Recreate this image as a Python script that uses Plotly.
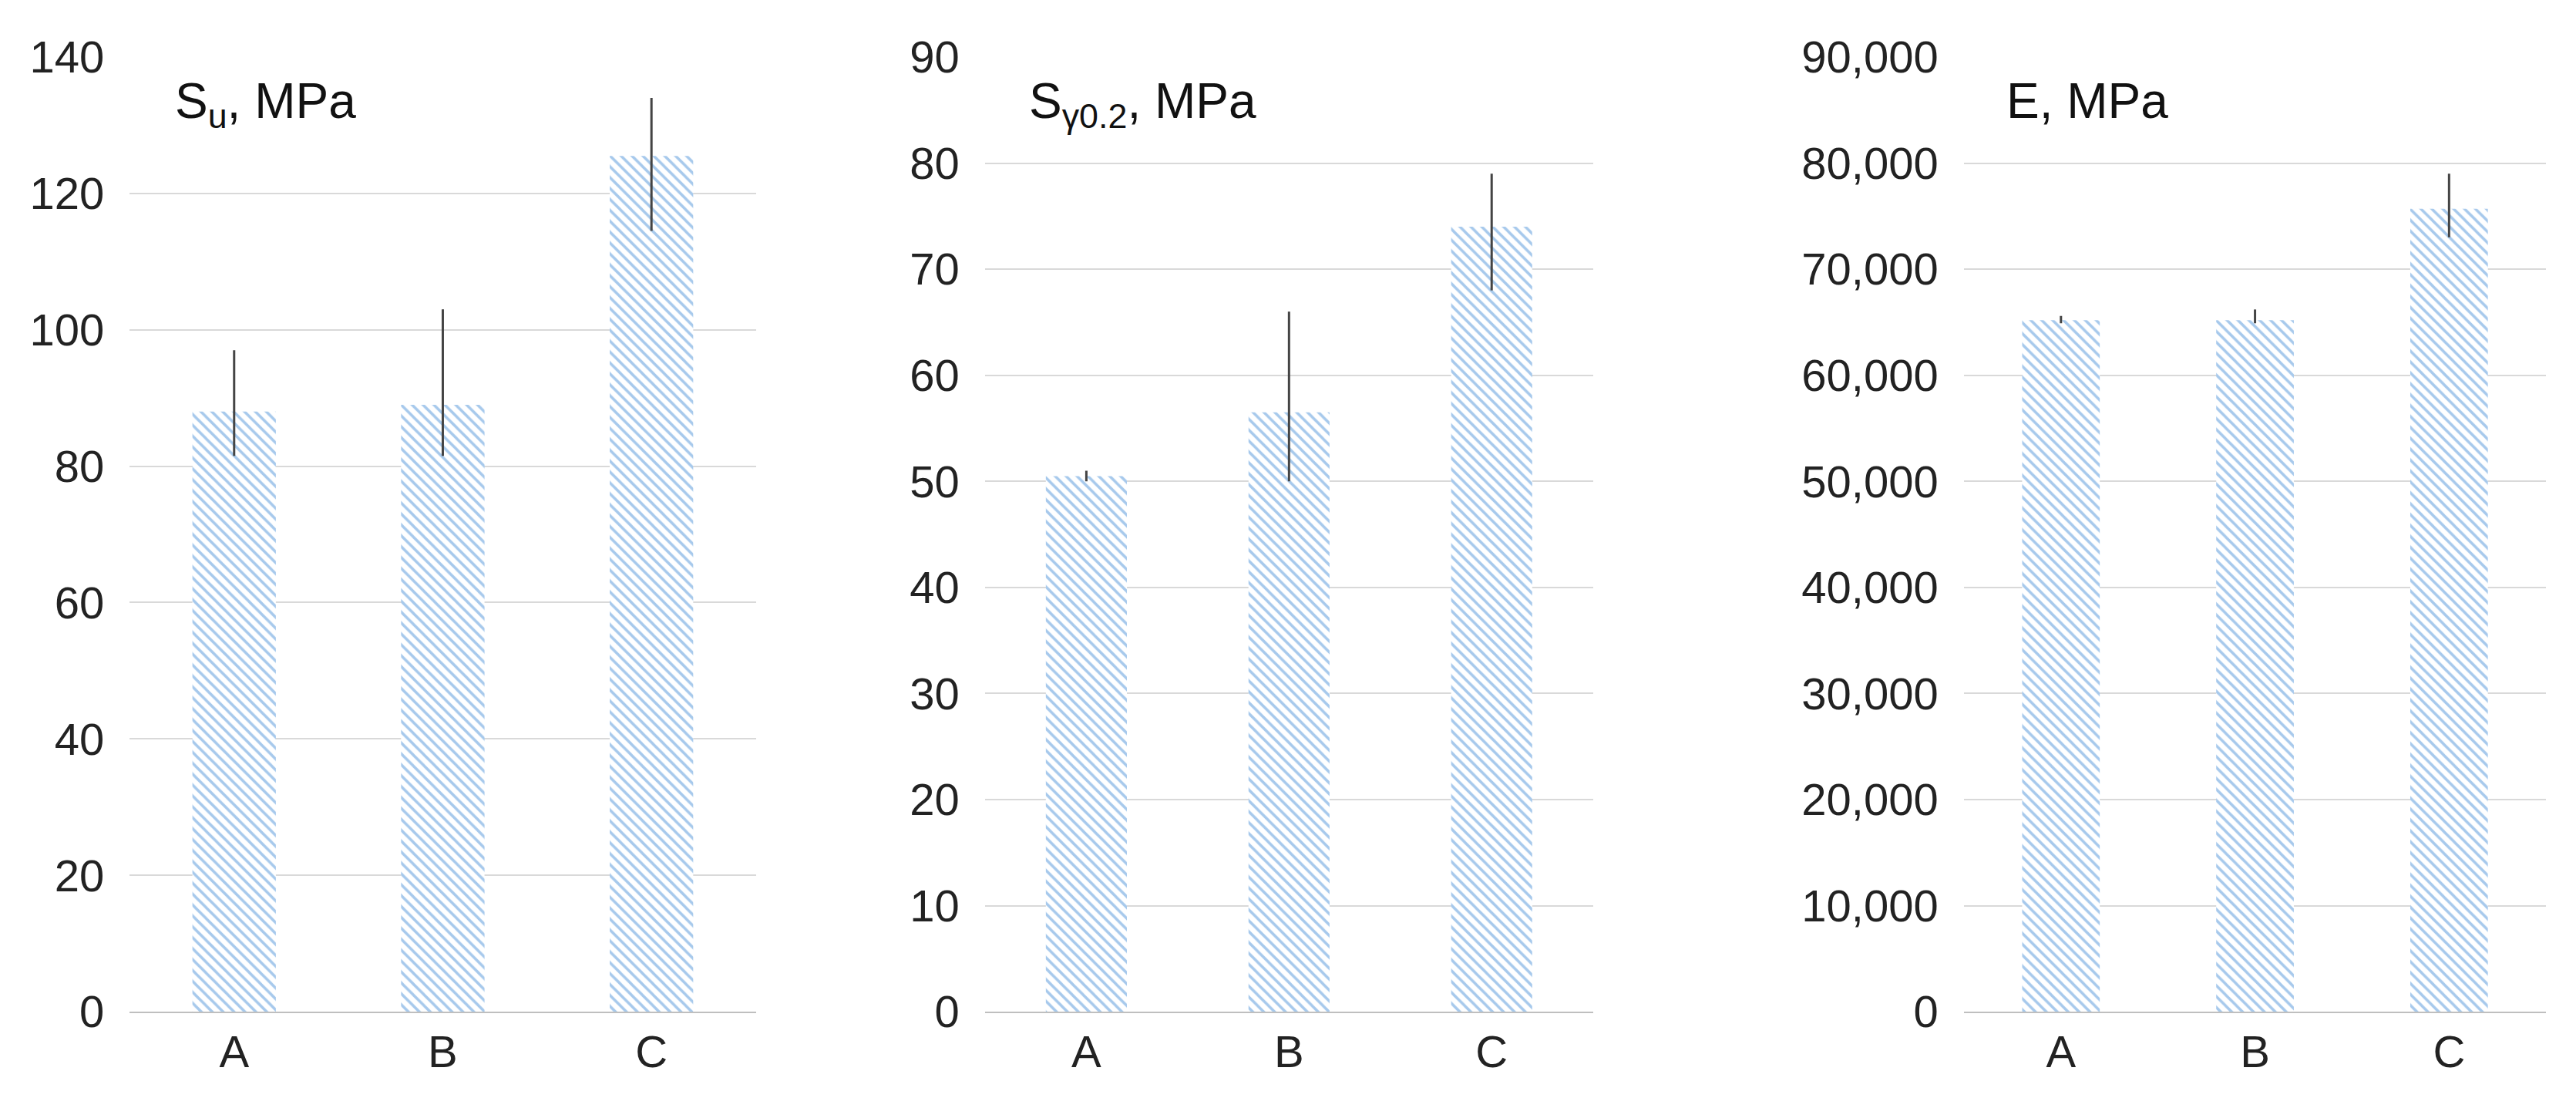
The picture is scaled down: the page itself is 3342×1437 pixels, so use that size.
import plotly.graph_objects as go

cats = ["A", "B", "C"]
su = [88, 89, 125.5]
su_hi = [97, 103, 134]
su_lo = [81.5, 81.5, 114.5]
sy = [50.5, 56.5, 74]
sy_hi = [51, 66, 79]
sy_lo = [50, 50, 68]
em = [65200, 65200, 75700]
em_hi = [65600, 66200, 79000]
em_lo = [64900, 64900, 73000]

panels = [
    (su, su_hi, su_lo, [0, 140], 20, "S<sub>u</sub>, MPa", [0.048, 0.291]),
    (sy, sy_hi, sy_lo, [0, 90], 10, "S<sub>γ0.2</sub>, MPa", [0.380, 0.616]),
    (em, em_hi, em_lo, [0, 90000], 10000, "E, MPa", [0.760, 0.986]),
]

fig = go.Figure()
font = dict(family="Liberation Sans, Arial", size=58, color="#222")
for i, (v, hi, lo, rng, dt, title, dom) in enumerate(panels):
    n = "" if i == 0 else str(i + 1)
    fig.add_trace(go.Bar(
        x=cats, y=v, xaxis="x" + n, yaxis="y" + n,
        marker=dict(color="white", line=dict(width=0),
                    pattern=dict(shape="\\", fgcolor="#4f94d9", bgcolor="white",
                                 size=10, solidity=0.35)),
        error_y=dict(type="data", symmetric=False,
                     array=[h - a for h, a in zip(hi, v)],
                     arrayminus=[a - l for l, a in zip(lo, v)],
                     color="#444", thickness=3, width=0),
        showlegend=False,
    ))
    fig.update_layout(**{
        "xaxis" + n: dict(domain=dom, anchor="y" + n, showline=True, linecolor="#bfbfbf",
                          linewidth=2, ticks="", tickfont=font),
        "yaxis" + n: dict(domain=[0.0735, 0.976], anchor="x" + n, range=rng, dtick=dt,
                          showgrid=True, gridcolor="#d9d9d9", gridwidth=2, zeroline=False,
                          tickfont=font, tickformat=",d", ticksuffix="  "),
    })
    fig.add_annotation(xref="x" + n + " domain", yref="y" + n + " domain", x=0.07, y=0.985,
                       xanchor="left", yanchor="top", text=title, showarrow=False,
                       font=dict(family="Liberation Sans, Arial", size=64, color="#111"))

fig.update_layout(width=3342, height=1437, margin=dict(l=0, r=0, t=0, b=0),
                  plot_bgcolor="white", paper_bgcolor="white", bargap=0.6)
fig.write_html("out.html")
